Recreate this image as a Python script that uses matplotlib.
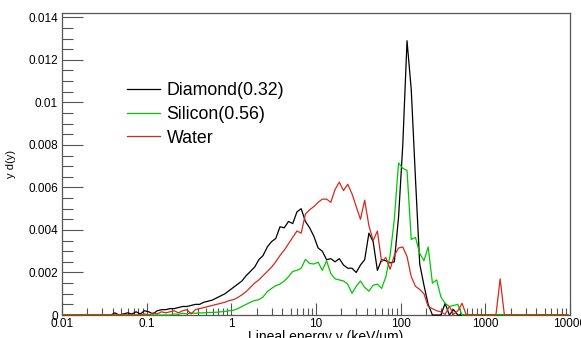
import matplotlib
matplotlib.use("Agg")
import matplotlib.pyplot as plt
import numpy as np
from matplotlib.ticker import LogLocator, MultipleLocator, FixedLocator

# histogram binning: 20 log bins per decade, 0.01 .. 10000 keV/um
y_lo, y_hi, n_bins = 0.01, 10000.0, 120
edges = np.logspace(np.log10(y_lo), np.log10(y_hi), n_bins + 1)
centers = np.sqrt(edges[:-1] * edges[1:])

# y d(y) values, in units of 1e-3
diamond = [
    0, 0, 0, 0, 0, 0, 0, 0, 0, 0,
    0, 0, 0.1, 0, 0.05, 0.1, 0.05, 0.15, 0.05, 0.2,
    0.15, 0.05, 0.2, 0.25, 0.25, 0.3, 0.3, 0.35, 0.4, 0.4,
    0.45, 0.5, 0.5, 0.6, 0.65, 0.7, 0.8, 0.9, 1.0, 1.15,
    1.3, 1.45, 1.6, 1.85, 2.05, 2.25, 2.6, 2.8, 3.2, 3.45,
    3.6, 4.15, 4.1, 4.4, 4.3, 4.85, 5.0, 4.4, 4.1, 3.7,
    3.15, 3.0, 2.6, 2.65, 2.5, 2.65, 2.35, 2.2, 2.2, 2.0,
    2.35, 2.6, 3.85, 3.45, 2.1, 2.6, 2.55, 2.45, 2.5, 4.6,
    8.0, 12.9, 10.6, 6.4, 2.4, 1.4, 0.5, 0, 0, 0,
    0.55, 0, 0.25, 0, 0, 0, 0, 0, 0, 0,
    0, 0, 0, 0, 0, 0, 0, 0, 0, 0,
    0, 0, 0, 0, 0, 0, 0, 0, 0, 0,
]
silicon = [
    0, 0, 0, 0, 0, 0, 0, 0, 0, 0,
    0, 0, 0, 0, 0, 0, 0, 0, 0, 0,
    0, 0, 0, 0, 0, 0, 0.05, 0.03, 0.08, 0.05,
    0.1, 0.08, 0.1, 0.1, 0.12, 0.12, 0.13, 0.15, 0.17, 0.2,
    0.22, 0.3, 0.4, 0.5, 0.6, 0.68, 0.72, 0.85, 1.1, 1.25,
    1.38, 1.45, 1.6, 1.8, 2.05, 2.1, 2.2, 2.62, 2.42, 2.4,
    2.48, 2.1, 2.55, 1.95, 1.7, 1.65, 1.6, 1.45, 1.02, 1.35,
    1.6, 1.3, 1.12, 1.4, 1.45, 1.25, 1.8, 2.8, 4.5, 7.15,
    6.9, 6.8, 3.55, 3.65, 2.9, 2.55, 3.2, 1.5, 1.65, 0.85,
    0.55, 0.4, 0.45, 0.5, 0, 0, 0, 0, 0, 0,
    0, 0, 0, 0, 0, 0, 0, 0, 0, 0,
    0, 0, 0, 0, 0, 0, 0, 0, 0, 0,
]
water = [
    0, 0, 0, 0, 0, 0, 0, 0, 0, 0,
    0, 0, 0, 0, 0, 0, 0, 0, 0, 0.05,
    0, 0.1, 0.05, 0.15, 0.1, 0.15, 0.2, 0.1, 0.2, 0.25,
    0.05, 0.25, 0.3, 0.35, 0.4, 0.45, 0.5, 0.55, 0.6, 0.68,
    0.72, 0.82, 0.95, 1.1, 1.3, 1.5, 1.65, 1.85, 2.05, 2.25,
    2.5, 2.8, 3.05, 3.35, 3.65, 3.95, 3.85, 4.75, 4.95, 5.1,
    5.3, 5.45, 5.45, 5.3, 5.9, 6.25, 5.85, 6.15, 5.7, 5.1,
    4.5, 5.4, 4.2, 3.5, 3.95, 2.5, 2.7, 2.15, 2.8, 3.15,
    3.2, 2.75, 1.8, 1.35, 1.2, 1.0, 0.4, 0.3, 0.2, 0.15,
    0.03, 0.4, 0.03, 0.2, 0.55, 0, 0, 0, 0, 0,
    0, 0, 0, 1.7, 0, 0, 0, 0, 0, 0,
    0, 0, 0, 0, 0, 0, 0, 0, 0, 0,
]

labels = ["Diamond(0.32)", "Silicon(0.56)", "Water"]
colors = ["black", "#00c800", "#d42a1c"]

x_ticks = [0.01, 0.1, 1, 10, 100, 1000, 10000]
x_ticklabels = ["0.01", "0.1", "1", "10", "100", "1000", "10000"]
y_ticks = [0, 0.002, 0.004, 0.006, 0.008, 0.01, 0.012, 0.014]
y_ticklabels = ["0", "0.002", "0.004", "0.006", "0.008", "0.01", "0.012", "0.014"]

plt.rcParams['font.family'] = ['Liberation Sans', 'DejaVu Sans']

fig = plt.figure(figsize=(5.81, 3.38), dpi=100)
ax = fig.add_axes([62 / 581, 1 - 315 / 338, 508 / 581, 301.7 / 338])

for vals, lab, col in zip([diamond, silicon, water], labels, colors):
    ax.plot(centers, np.array(vals) * 1e-3, color=col, lw=0.9, label=lab,
            clip_on=False, zorder=3)

ax.set_xscale('log')
ax.set_xlim(y_lo, y_hi)
ax.set_ylim(0, 0.01419)

ax.xaxis.set_major_locator(FixedLocator(x_ticks))
ax.xaxis.set_minor_locator(LogLocator(base=10, subs=np.arange(2, 10)))
ax.set_xticklabels(x_ticklabels)
ax.yaxis.set_major_locator(FixedLocator(y_ticks))
ax.yaxis.set_minor_locator(MultipleLocator(0.0005))
ax.set_yticklabels(y_ticklabels)

ax.tick_params(axis='both', which='both', direction='in', labelsize=8.5,
               color='#555555', width=0.8)
ax.tick_params(axis='x', which='major', length=9, pad=2)
ax.tick_params(axis='x', which='minor', length=5)
ax.tick_params(axis='y', which='major', length=15, pad=3)
ax.tick_params(axis='y', which='minor', length=8)

for s in ax.spines.values():
    s.set_color('#555555')
    s.set_linewidth(0.9)

ax.set_ylabel("y d(y)", fontsize=8)
ax.yaxis.set_label_coords(-0.09, 0.5)
fig.text(326 / 581, 1 - 330 / 338, "Lineal energy y (keV/um)", fontsize=10,
         ha='center', va='top')

ax.legend(loc='upper left', bbox_to_anchor=(126.7 / 581, 1 - 82 / 338),
          bbox_transform=fig.transFigure, frameon=False, fontsize=12.8,
          handlelength=1.85, handletextpad=0.4, labelspacing=0.38,
          borderpad=0, borderaxespad=0)

fig.savefig("out.png", dpi=100)
